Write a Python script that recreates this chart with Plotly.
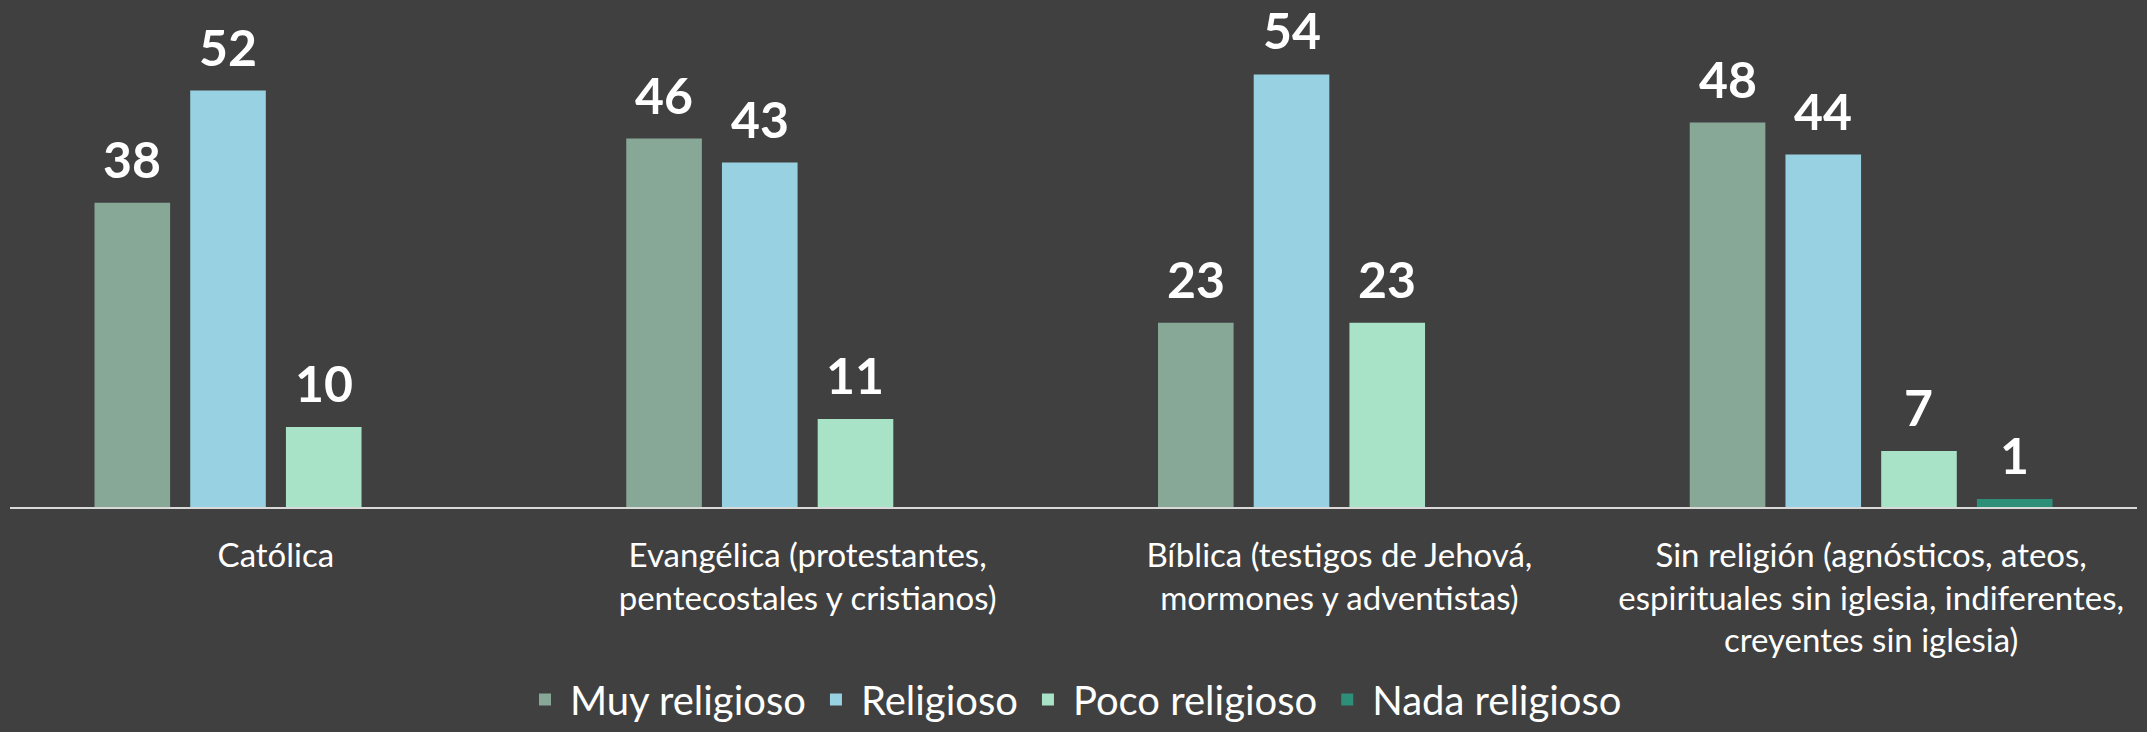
import plotly.graph_objects as go

# data
categorias = [
    "Católica",
    "Evangélica (protestantes,<br>pentecostales y cristianos)",
    "Bíblica (testigos de Jehová,<br>mormones y adventistas)",
    "Sin religión (agnósticos, ateos,<br>espirituales sin iglesia, indiferentes,<br>creyentes sin iglesia)",
]
muy_religioso = [38, 46, 23, 48]
religioso = [52, 43, 54, 44]
poco_religioso = [10, 11, 23, 7]
nada_religioso = [None, None, None, 1]

series = [
    ("Muy religioso", muy_religioso, "#87A797"),
    ("Religioso", religioso, "#97D1E2"),
    ("Poco religioso", poco_religioso, "#A8E2C7"),
    ("Nada religioso", nada_religioso, "#2E8F78"),
]

FONT = "Gill Sans MT, Gill Sans, Lato, sans-serif"
BG = "#404040"

W, H = 2147, 732
ML, MR, MT, MB = 10, 10, 0, 225
BARGAP = 0.28

fig = go.Figure()
for name, vals, color in series:
    fig.add_trace(
        go.Bar(
            x=categorias,
            y=vals,
            name=name,
            marker=dict(color=color, line=dict(width=0)),
        )
    )

# value labels above each bar (shifted sideways to sit over its bar in the group)
slot = (W - ML - MR) / len(categorias) * (1 - BARGAP) / len(series)
for i, (name, vals, color) in enumerate(series):
    for cat, v in zip(categorias, vals):
        if v is None:
            continue
        fig.add_annotation(
            x=cat,
            y=v,
            text="<b>%d</b>" % v,
            showarrow=False,
            xanchor="center",
            yanchor="bottom",
            xshift=(i - (len(series) - 1) / 2) * slot,
            yshift=12,
            font=dict(family=FONT, size=50, color="white"),
        )

fig.update_layout(
    width=W,
    height=H,
    paper_bgcolor=BG,
    plot_bgcolor=BG,
    barmode="group",
    bargap=BARGAP,
    bargroupgap=0.21,
    margin=dict(l=ML, r=MR, t=MT, b=MB, autoexpand=False),
    font=dict(family=FONT, color="white"),
    showlegend=True,
    legend=dict(
        orientation="h",
        x=0.5,
        xanchor="center",
        yref="container",
        y=0,
        yanchor="bottom",
        itemwidth=40,
        font=dict(family=FONT, size=40, color="white"),
        bgcolor="rgba(0,0,0,0)",
    ),
    xaxis=dict(
        automargin=False,
        showline=True,
        linecolor="#D9D9D9",
        linewidth=2,
        ticks="",
        ticklabelstandoff=18,
        tickfont=dict(family=FONT, size=33, color="white"),
        showgrid=False,
        zeroline=False,
    ),
    yaxis=dict(
        automargin=False,
        range=[0, 63.3],
        visible=False,
        showgrid=False,
        zeroline=False,
    ),
)

fig.write_html(
    "out.html",
    config={"displayModeBar": False},
    post_script="document.body.style.margin='0';document.body.style.background='" + BG + "';",
)
